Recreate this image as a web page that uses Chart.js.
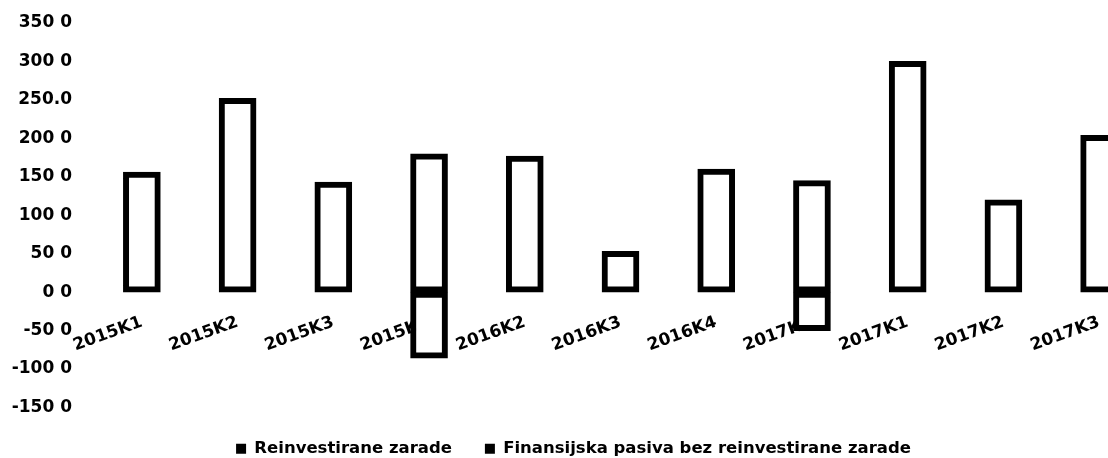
<!DOCTYPE html>
<html>
<head>
<meta charset="utf-8">
<script src="https://cdn.jsdelivr.net/npm/chart.js@4/dist/chart.umd.min.js"></script>
<style>
    body { margin: 0; background: #fff; overflow: hidden; }
    #wrap { width: 1170px; height: 458px; }
</style>
</head>
<body>
<div id="wrap"><canvas id="graphik"></canvas></div>
<script>
const quarters = ['2015K1', '2015K2', '2015K3', '2015K4', '2016K2', '2016K3', '2016K4', '2017K4', '2017K1', '2017K2', '2017K3'];
const reinvestirane = [156, 252, 143, 180, 177, 53, 160, 145, 300, 120, 204];
const finansijska = [null, null, null, -86, null, null, null, -50, null, null, null];
const tickValues = [-150, -100, -50, 0, 50, 100, 150, 200, 250, 300, 350];
const tickLabels = ['-150 0', '-100 0', '-50 0', '0 0', '50 0', '100 0', '150 0', '200 0', '250.0', '300 0', '350 0'];

var ctx = document.getElementById("graphik");
var graphik = new Chart(ctx, {
    type: 'bar',
    data: {
        labels: quarters,
        datasets: [{
            label: 'Reinvestirane zarade',
            data: reinvestirane,
            backgroundColor: '#ffffff',
            borderColor: '#000000',
            borderWidth: 6,
            borderSkipped: false,
            barThickness: 37
        }, {
            label: 'Finansijska pasiva bez reinvestirane zarade',
            data: finansijska,
            backgroundColor: '#ffffff',
            borderColor: '#000000',
            borderWidth: 6,
            borderSkipped: false,
            barThickness: 37
        }]
    },
    options: {
        responsive: true,
        maintainAspectRatio: false,
        animation: false,
        layout: { padding: { top: 23, right: 23, bottom: -9, left: 0 } },
        scales: {
            x: {
                stacked: true,
                position: { y: 0 },
                grid: { display: false, drawTicks: false },
                border: { display: false },
                ticks: {
                    autoSkip: false,
                    minRotation: 20,
                    maxRotation: 20,
                    padding: 20,
                    color: '#000',
                    font: { family: 'DejaVu Sans', size: 17, weight: 'bold' }
                }
            },
            y: {
                stacked: true,
                min: -150,
                max: 350,
                grid: { display: false, drawTicks: false },
                border: { display: false },
                afterFit: function(scale) {
                    scale.width = 94;
                    scale.paddingTop = 10;
                    scale.paddingBottom = 10;
                },
                ticks: {
                    stepSize: 50,
                    padding: 22,
                    color: '#000',
                    font: { family: 'DejaVu Sans', size: 17, weight: 'bold' },
                    callback: function(value) {
                        return tickLabels[tickValues.indexOf(value)];
                    }
                }
            }
        },
        plugins: {
            tooltip: { enabled: false },
            legend: {
                position: 'bottom',
                labels: {
                    boxWidth: 10,
                    boxHeight: 10,
                    padding: 33,
                    color: '#000',
                    font: { family: 'DejaVu Sans', size: 16.5, weight: 'bold' },
                    generateLabels: function(chart) {
                        return Chart.defaults.plugins.legend.labels.generateLabels(chart).map(item => {
                            item.fillStyle = '#000';
                            item.lineWidth = 0;
                            return item;
                        });
                    }
                }
            }
        }
    }
});
</script>
</body>
</html>
